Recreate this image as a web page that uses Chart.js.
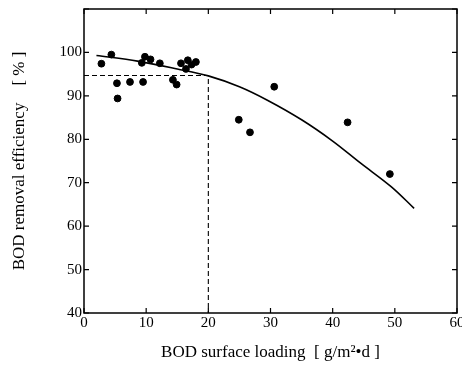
<!DOCTYPE html>
<html>
<head>
<meta charset="utf-8">
<script src="https://cdn.jsdelivr.net/npm/chart.js@4"></script>
<style>
  html, body { margin: 0; padding: 0; background: #fff; }
  canvas { display: block; }
</style>
</head>
<body>
<canvas id="chart" width="462" height="369"></canvas>
<script>
// measured points
const loadX = [2.8, 4.4, 5.3, 5.4, 7.4, 9.3, 9.5, 9.8, 10.7, 12.2, 14.3, 14.9, 15.6, 16.4, 16.7, 17.3, 18.0, 24.9, 26.7, 30.6, 42.4, 49.2];
const removalY = [97.4, 99.5, 92.9, 89.4, 93.2, 97.6, 93.2, 99.0, 98.4, 97.5, 93.7, 92.6, 97.5, 96.2, 98.2, 97.2, 97.8, 84.5, 81.6, 92.1, 83.9, 72.0];

// fitted curve
const curveX = [2, 8.6, 15, 20, 25, 29.5, 35, 40, 44.5, 49.4, 53.1];
const curveY = [99.3, 98.0, 96.2, 94.6, 92.1, 89.0, 84.5, 79.6, 74.5, 69.1, 64.1];

// reading guide at 20 g/m2·d
const guideX = [0, 20, 20];
const guideY = [94.7, 94.7, 40];

const xTicks = [0, 10, 20, 30, 40, 50, 60];
const yTicks = [40, 50, 60, 70, 80, 90, 100, 110];

const serif = "'Liberation Serif', 'DejaVu Serif', serif";

const toPts = (xs, ys) => xs.map((x, i) => ({ x: x, y: ys[i] }));

// frame + inward tick marks on all four sides
const framePlugin = {
  id: 'frame',
  afterDraw(chart) {
    const { ctx, chartArea: a, scales } = chart;
    ctx.save();
    ctx.strokeStyle = '#000';
    ctx.lineWidth = 1.5;
    ctx.strokeRect(a.left, a.top, a.right - a.left, a.bottom - a.top);
    ctx.lineWidth = 1.2;
    const len = 5;
    ctx.beginPath();
    scales.x.ticks.forEach(t => {
      const px = scales.x.getPixelForValue(t.value);
      ctx.moveTo(px, a.bottom); ctx.lineTo(px, a.bottom - len);
      ctx.moveTo(px, a.top); ctx.lineTo(px, a.top + len);
    });
    scales.y.ticks.forEach(t => {
      const py = scales.y.getPixelForValue(t.value);
      ctx.moveTo(a.left, py); ctx.lineTo(a.left + len, py);
      ctx.moveTo(a.right, py); ctx.lineTo(a.right - len, py);
    });
    ctx.stroke();
    ctx.restore();
  }
};

new Chart(document.getElementById('chart'), {
  type: 'scatter',
  data: {
    datasets: [
      {
        label: 'measured',
        data: toPts(loadX, removalY),
        backgroundColor: '#000',
        borderColor: '#000',
        pointRadius: 3.4,
        pointHoverRadius: 3.4
      },
      {
        label: 'curve',
        type: 'line',
        data: toPts(curveX, curveY),
        borderColor: '#000',
        borderWidth: 1.6,
        pointRadius: 0,
        tension: 0.35,
        fill: false
      },
      {
        label: 'guide',
        type: 'line',
        data: toPts(guideX, guideY),
        borderColor: '#000',
        borderWidth: 1.1,
        borderDash: [5, 3],
        pointRadius: 0,
        tension: 0,
        fill: false
      }
    ]
  },
  options: {
    responsive: false,
    animation: false,
    devicePixelRatio: 1,
    layout: { padding: { top: 9, right: 5, left: 0, bottom: 0 } },
    plugins: { legend: { display: false }, tooltip: { enabled: false } },
    scales: {
      x: {
        type: 'linear',
        min: 0, max: 60,
        afterBuildTicks: s => { s.ticks = xTicks.map(v => ({ value: v })); },
        afterFit: s => { s.height = 56; s.paddingLeft = 0; s.paddingRight = 0; },
        grid: { display: false, drawTicks: false },
        border: { display: false },
        ticks: {
          color: '#000',
          padding: 1,
          maxRotation: 0,
          autoSkip: false,
          font: { family: serif, size: 15 }
        },
        title: {
          display: true,
          text: 'BOD surface loading  [ g/m²•d ]',
          color: '#000',
          font: { family: serif, size: 17 },
          padding: { top: 0, bottom: 6 }
        }
      },
      y: {
        type: 'linear',
        min: 40, max: 110,
        afterBuildTicks: s => { s.ticks = yTicks.map(v => ({ value: v })); },
        afterFit: s => { s.width = 84; s.paddingTop = 0; s.paddingBottom = 0; },
        grid: { display: false, drawTicks: false },
        border: { display: false },
        ticks: {
          color: '#000',
          padding: 2,
          autoSkip: false,
          font: { family: serif, size: 15 },
          callback: v => (v > 100 ? '' : v)
        },
        title: {
          display: true,
          text: 'BOD removal efficiency    [ % ]',
          color: '#000',
          font: { family: serif, size: 17 },
          padding: { top: 9, bottom: 0 }
        }
      }
    }
  },
  plugins: [framePlugin]
});
</script>
</body>
</html>
